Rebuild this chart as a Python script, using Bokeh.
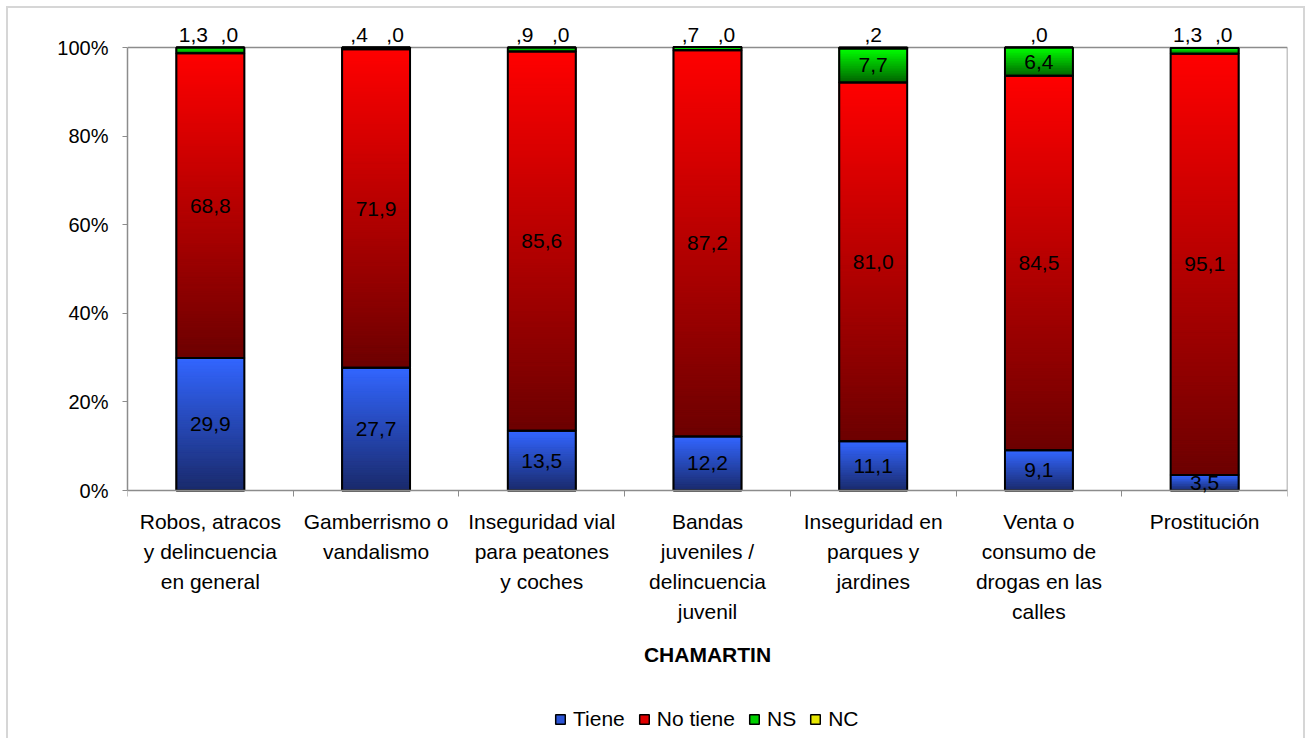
import math
from bokeh.plotting import figure
from bokeh.models import Range1d, FixedTicker, ColumnDataSource, LabelSet, Legend, LegendItem
from bokeh.core.properties import value
from bokeh.embed import file_html
from bokeh.resources import INLINE

# ---------------- data ----------------
categories = [
    "Robos, atracos\ny delincuencia\nen general",
    "Gamberrismo o\nvandalismo",
    "Inseguridad vial\npara peatones\ny coches",
    "Bandas\njuveniles /\ndelincuencia\njuvenil",
    "Inseguridad en\nparques y\njardines",
    "Venta o\nconsumo de\ndrogas en las\ncalles",
    "Prostitución",
]
tiene = [29.9, 27.7, 13.5, 12.2, 11.1, 9.1, 3.5]
no_tiene = [68.8, 71.9, 85.6, 87.2, 81.0, 84.5, 95.1]
ns = [1.3, 0.4, 0.9, 0.7, 7.7, 6.4, 1.3]
nc = [0.0, 0.0, 0.0, 0.0, 0.2, 0.0, 0.0]
series_names = ["Tiene", "No tiene", "NS", "NC"]
y_ticks = [0, 20, 40, 60, 80, 100]
y_tick_labels = ["0%", "20%", "40%", "60%", "80%", "100%"]
axis_title = "CHAMARTIN"

# ---------------- styles ----------------
FONT = "Liberation Sans"
FS = "21px"
FS_Y = "20px"
series_values = [tiene, no_tiene, ns, nc]
grad = {  # (top colour, bottom colour)
    "Tiene": ((51, 102, 255), (26, 42, 106)),
    "No tiene": ((255, 0, 0), (108, 0, 0)),
    "NS": ((0, 255, 0), (0, 96, 0)),
    "NC": ((255, 255, 0), (128, 128, 0)),
}
legend_colors = {"Tiene": "#2c55d6", "No tiene": "#e00000", "NS": "#00d000", "NC": "#e6e600"}
BAR_W = 0.41
AXIS_GRAY = "#8c8c8c"

# geometry (pixels): 100 units of the value axis = 443 px
PX_PER_UNIT = 4.43
FRAME_H = 726
TOP_PAD_PX = 478      # from the 0 line to the top of the frame
n = len(categories)
xs = [i + 0.5 for i in range(n)]
y_hi = TOP_PAD_PX / PX_PER_UNIT
y_lo = -(FRAME_H - TOP_PAD_PX) / PX_PER_UNIT


def lerp(c1, c2, t):
    return "#%02x%02x%02x" % tuple(int(round(a + (b - a) * t)) for a, b in zip(c1, c2))


def fmt(v):
    s = f"{v:.1f}".replace(".", ",")
    if s.startswith("0,"):
        s = s[1:]
    return s


p = figure(
    frame_width=1160, frame_height=FRAME_H,
    x_range=Range1d(0, n), y_range=Range1d(y_lo, y_hi),
    output_backend="svg", toolbar_location=None,
    min_border_left=119, min_border_right=16, min_border_top=4, min_border_bottom=0,
    background_fill_color="white", border_fill_color="white",
)
p.styles = {
    "margin-left": "6px",
    "margin-top": "6px",
    "border-top": "2px solid #d6d6d6",
    "border-left": "2px solid #d6d6d6",
    "border-right": "2px solid #d6d6d6",
}
p.outline_line_color = None
p.xgrid.visible = False
p.ygrid.visible = False

# top and right edges of the plot area (0..n, 0..100)
p.segment(x0=[0, n], y0=[y_ticks[-1], 0], x1=[n, n], y1=[y_ticks[-1], y_ticks[-1]],
          line_color=AXIS_GRAY, line_width=1.5)

# stacked segments
base = [0.0] * n
seg = {}
for name, vals in zip(series_names, series_values):
    bots = list(base)
    tops = [b + v for b, v in zip(base, vals)]
    seg[name] = (bots, tops)
    base = tops

legend_renderers = {}
for name in series_names:
    bots, tops = seg[name]
    r = p.vbar(x=xs, bottom=bots, top=tops, width=BAR_W,
               fill_color=legend_colors[name], line_color="black", line_width=1.5)
    legend_renderers[name] = r

# gradient slices
sl = dict(x=[], bottom=[], top=[], color=[])
for name in series_names:
    bots, tops = seg[name]
    ctop, cbot = grad[name]
    for i in range(n):
        h = tops[i] - bots[i]
        if h <= 0:
            continue
        k = max(1, math.ceil(h / 0.4))
        for j in range(k):
            sl["x"].append(xs[i])
            sl["bottom"].append(bots[i] + h * j / k)
            sl["top"].append(bots[i] + h * (j + 1) / k)
            sl["color"].append(lerp(ctop, cbot, 1 - (j + 0.5) / k))
p.vbar(x="x", bottom="bottom", top="top", width=BAR_W, fill_color="color",
       line_color="color", line_width=1, source=ColumnDataSource(sl))

# outlines
for name in series_names:
    bots, tops = seg[name]
    p.vbar(x=xs, bottom=bots, top=tops, width=BAR_W, fill_color=None,
           line_color="black", line_width=2)

# labels
inside = dict(x=[], y=[], text=[])
above = dict(x=[], y=[], text=[], dx=[])
NS_INSIDE_MIN = 3.0
for name in ["Tiene", "No tiene"]:
    bots, tops = seg[name]
    vals = series_values[series_names.index(name)]
    for i in range(n):
        inside["x"].append(xs[i]); inside["y"].append((bots[i] + tops[i]) / 2)
        inside["text"].append(fmt(vals[i]))
bots, tops = seg["NS"]
for i in range(n):
    if ns[i] >= NS_INSIDE_MIN:
        inside["x"].append(xs[i]); inside["y"].append((bots[i] + tops[i]) / 2)
        inside["text"].append(fmt(ns[i]))
    else:
        above["x"].append(xs[i]); above["y"].append(y_ticks[-1]); above["text"].append(fmt(ns[i]))
        above["dx"].append(-17)
    above["x"].append(xs[i]); above["y"].append(y_ticks[-1]); above["text"].append(fmt(nc[i]))
    above["dx"].append(19 if ns[i] < NS_INSIDE_MIN else 0)

p.add_layout(LabelSet(x="x", y="y", text="text", source=ColumnDataSource(inside),
                      text_align="center", text_baseline="middle",
                      text_font=value(FONT), text_font_size=value(FS), text_color="black"))
p.add_layout(LabelSet(x="x", y="y", text="text", source=ColumnDataSource(above),
                      x_offset="dx", y_offset=6,
                      text_align="center", text_baseline="alphabetic",
                      text_font=value(FONT), text_font_size=value(FS), text_color="black"))

# y axis
yax = p.yaxis[0]
yax.ticker = FixedTicker(ticks=y_ticks)
yax.bounds = (y_ticks[0], y_ticks[-1])
yax.major_label_overrides = dict(zip(y_ticks, y_tick_labels))
yax.axis_line_color = AXIS_GRAY
yax.axis_line_width = 1.5
yax.major_tick_line_color = AXIS_GRAY
yax.major_tick_out = 5
yax.major_tick_in = 0
yax.minor_tick_line_color = None
yax.major_label_standoff = 14
yax.major_label_text_font = FONT
yax.major_label_text_font_size = FS_Y
yax.major_label_text_color = "black"

# x axis (fixed at the 0 line)
xax = p.xaxis[0]
xax.fixed_location = 0
xax.ticker = FixedTicker(ticks=xs, minor_ticks=list(range(n + 1)))
xax.major_label_overrides = dict(zip(xs, categories))
xax.axis_line_color = AXIS_GRAY
xax.axis_line_width = 1.5
xax.major_tick_line_color = None
xax.major_tick_out = 0
xax.major_tick_in = 0
xax.minor_tick_line_color = AXIS_GRAY
xax.minor_tick_out = 6
xax.minor_tick_in = 0
xax.major_label_standoff = 13
xax.major_label_text_font = FONT
xax.major_label_text_font_size = FS
xax.major_label_text_color = "black"
xax.major_label_text_line_height = 1.316
xax.axis_label = axis_title
xax.axis_label_text_font = FONT
xax.axis_label_text_font_size = FS
xax.axis_label_text_font_style = "bold"
xax.axis_label_text_color = "black"
xax.axis_label_standoff = 17

legend = Legend(
    items=[LegendItem(label=nm, renderers=[legend_renderers[nm]]) for nm in series_names],
    orientation="horizontal", location=(427, 7),
    label_text_font=FONT, label_text_font_size=FS, label_text_color="black",
    glyph_width=12, glyph_height=12, spacing=13, label_standoff=7,
    border_line_color=None, background_fill_alpha=0, margin=0, padding=4,
)
p.add_layout(legend, "center")

open("out.html", "w").write(file_html(p, INLINE))
